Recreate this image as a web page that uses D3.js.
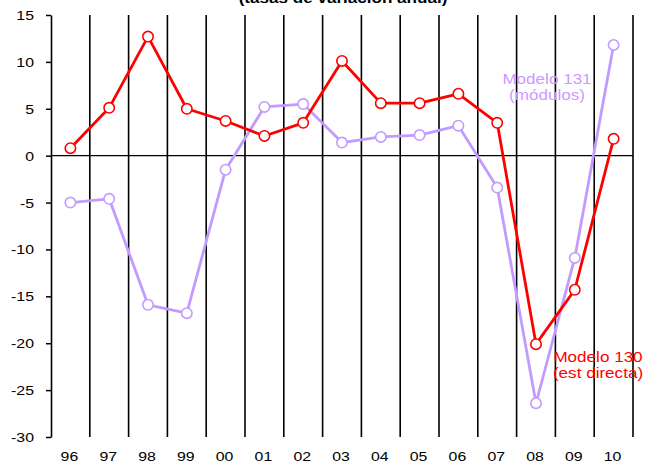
<!DOCTYPE html>
<html>
<head>
<script src="https://d3js.org/d3.v7.min.js"></script>
<style>
  body { margin: 0; background: #fff; }
  text { font-family: "Liberation Sans", Arial, sans-serif; }
</style>
</head>
<body>
<div id="chart"></div>
<script>
// años (eje x)
var years = ["96","97","98","99","00","01","02","03","04","05","06","07","08","09","10"];
// Modelo 130 (est directa)
var modelo130 = [0.8, 5.1, 12.7, 5.0, 3.7, 2.1, 3.5, 10.1, 5.6, 5.6, 6.6, 3.5, -20.1, -14.3, 1.8];
// Modelo 131 (módulos)
var modelo131 = [-5.0, -4.6, -15.9, -16.8, -1.5, 5.2, 5.5, 1.4, 2.0, 2.2, 3.2, -3.4, -26.4, -10.9, 11.8];
var yTicks = [15, 10, 5, 0, -5, -10, -15, -20, -25, -30];

var W = 645, H = 465;
var red = "#ff0000", lila = "#c39bff";
var sx = 1.22; // texto algo ensanchado, como en el original

var svg = d3.select("#chart").append("svg")
  .attr("width", W).attr("height", H);

var x = d3.scaleBand().domain(years).range([51, 633]);
var y = d3.scaleLinear().domain([-30, 15]).range([437, 15]);

function cx(d) { return x(d) + x.bandwidth() / 2; }

// title (cortado arriba, como en el original)
svg.append("text")
  .attr("transform", "translate(343,3) scale(" + sx + ",1)")
  .attr("text-anchor", "middle")
  .attr("font-size", 14).attr("font-weight", "bold")
  .text("(tasas de variación anual)");

// vertical grid lines
var bounds = years.slice(1).map(function(d) { return x(d); }).concat([x.range()[1]]);
svg.append("g").selectAll("line").data(bounds).enter().append("line")
  .attr("x1", function(d) { return d; }).attr("x2", function(d) { return d; })
  .attr("y1", y(15)).attr("y2", y(-30))
  .attr("stroke", "#000").attr("stroke-width", 1.6);

// zero line
svg.append("line")
  .attr("x1", 51).attr("x2", 633).attr("y1", y(0)).attr("y2", y(0))
  .attr("stroke", "#000").attr("stroke-width", 1.2);

// y axis
var yAxis = svg.append("g").attr("transform", "translate(51,0)")
  .call(d3.axisLeft(y).tickValues(yTicks).tickSize(5).tickSizeOuter(0).tickFormat(d3.format("d")));
yAxis.select(".domain").attr("stroke", "#000").attr("stroke-width", 1.6);
yAxis.selectAll(".tick line").attr("stroke", "#000").attr("stroke-width", 1.5);
yAxis.selectAll(".tick text").remove();
svg.append("g").selectAll("text").data(yTicks).enter().append("text")
  .attr("transform", function(d) { return "translate(34," + (y(d) + 5) + ") scale(" + sx + ",1)"; })
  .attr("text-anchor", "end").attr("font-size", 13).attr("fill", "#000")
  .text(function(d) { return d; });

// x labels
svg.append("g").selectAll("text").data(years).enter().append("text")
  .attr("transform", function(d) { return "translate(" + (cx(d) - 1) + ",461) scale(" + sx + ",1)"; })
  .attr("text-anchor", "middle").attr("font-size", 13).attr("fill", "#000")
  .text(function(d) { return d; });

function drawSeries(vals, color) {
  var line = d3.line().x(function(d, i) { return cx(years[i]); }).y(function(d) { return y(d); });
  svg.append("path").datum(vals)
    .attr("d", line).attr("fill", "none")
    .attr("stroke", color).attr("stroke-width", 2.8).attr("stroke-linejoin", "round");
  svg.append("g").selectAll("circle").data(vals).enter().append("circle")
    .attr("cx", function(d, i) { return cx(years[i]); })
    .attr("cy", function(d) { return y(d); })
    .attr("r", 5.2)
    .attr("fill", "#fff").attr("stroke", color).attr("stroke-width", 1.6);
}
drawSeries(modelo131, lila);
drawSeries(modelo130, red);

// annotations
function label(lines, xc, y0, color) {
  lines.forEach(function(t, i) {
    svg.append("text")
      .attr("transform", "translate(" + xc + "," + (y0 + i * 16) + ") scale(" + sx + ",1)")
      .attr("text-anchor", "middle").attr("font-size", 14).attr("fill", color)
      .text(t);
  });
}
label(["Modelo 131", "(módulos)"], 547, 84, "#cc99ff");
label(["Modelo 130", "(est directa)"], 598, 362, red);
</script>
</body>
</html>
